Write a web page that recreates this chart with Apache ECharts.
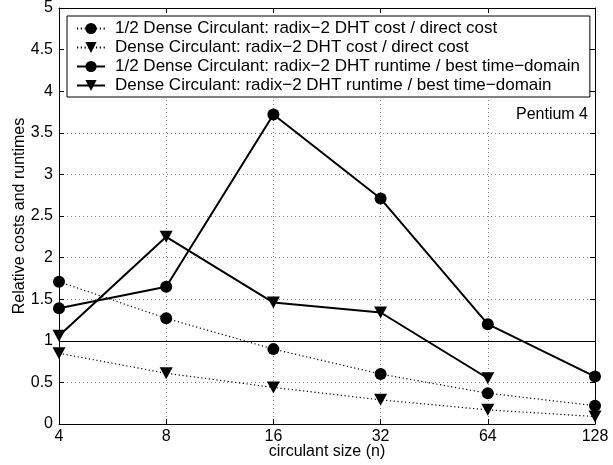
<!DOCTYPE html>
<html>
<head>
<meta charset="utf-8">
<script src="https://cdn.jsdelivr.net/npm/echarts@6/dist/echarts.min.js"></script>
<style>
html,body{margin:0;padding:0;background:#fff;}
#c{width:613px;height:465px;}
</style>
</head>
<body>
<div id="c"></div>
<script>
var categories = ['4', '8', '16', '32', '64', '128'];
var halfDenseCost = [1.71, 1.27, 0.90, 0.60, 0.37, 0.22];
var denseCost = [0.85, 0.61, 0.44, 0.29, 0.17, 0.09];
var halfDenseRuntime = [1.39, 1.65, 3.72, 2.71, 1.20, 0.57];
var denseRuntime = [1.06, 2.25, 1.46, 1.34, 0.55, null];
var seriesNames = [
  '1/2 Dense Circulant: radix\u22122 DHT cost / direct cost',
  'Dense Circulant: radix\u22122 DHT cost / direct cost',
  '1/2 Dense Circulant: radix\u22122 DHT runtime / best time\u2212domain',
  'Dense Circulant: radix\u22122 DHT runtime / best time\u2212domain'
];
var referenceLevel = 1;
var yTicks = {min: 0, max: 5, interval: 0.5};

var FONT = '"Liberation Sans", Arial, Helvetica, sans-serif';
var FS = 16;
var chart = echarts.init(document.getElementById('c'), null, {renderer: 'canvas'});

function mk(name, data, dotted, sym) {
  return {
    name: name,
    type: 'line',
    data: data,
    xAxisIndex: 0,
    yAxisIndex: 0,
    symbol: sym === 'tri' ? 'triangle' : 'circle',
    symbolRotate: sym === 'tri' ? 180 : 0,
    symbolSize: sym === 'tri' ? [13, 12] : 12,
    showAllSymbols: true,
    connectNulls: false,
    animation: false,
    itemStyle: {color: '#000', borderColor: '#000', borderWidth: 0, opacity: 1},
    lineStyle: {color: '#000', width: dotted ? 1.2 : 2, type: dotted ? [1.2, 2.6] : 'solid'},
    emphasis: {disabled: true},
    z: 5
  };
}

var series = [
  mk(seriesNames[0], halfDenseCost, true, 'circ'),
  mk(seriesNames[1], denseCost, true, 'tri'),
  mk(seriesNames[2], halfDenseRuntime, false, 'circ'),
  mk(seriesNames[3], denseRuntime, false, 'tri')
];
series[0].markLine = {
  silent: true,
  symbol: ['none', 'none'],
  label: {show: false},
  animation: false,
  lineStyle: {color: '#000', width: 1, type: 'solid'},
  data: [{yAxis: referenceLevel}]
};

var axisCommonX = {
  type: 'category',
  data: categories,
  boundaryGap: false,
  axisLine: {show: true, onZero: false, lineStyle: {color: '#000', width: 1}},
  axisTick: {show: true, inside: true, length: 5, alignWithLabel: true, lineStyle: {color: '#000'}}
};
var axisCommonY = {
  type: 'value',
  min: yTicks.min, max: yTicks.max, interval: yTicks.interval,
  axisLine: {show: true, lineStyle: {color: '#000', width: 1}},
  axisTick: {show: true, inside: true, length: 5, lineStyle: {color: '#000'}}
};

var option = {
  backgroundColor: '#fff',
  animation: false,
  textStyle: {fontFamily: FONT},
  title: {
    text: 'Pentium 4',
    right: 25, top: 107,
    padding: 0,
    textStyle: {fontFamily: FONT, fontSize: FS, fontWeight: 'normal', color: '#000'}
  },
  grid: {left: 59, right: 18, top: 8, bottom: 35, containLabel: false},
  legend: {
    show: true,
    orient: 'vertical',
    left: 67, top: 16,
    backgroundColor: '#fff',
    borderColor: '#000',
    borderWidth: 1,
    borderRadius: 0,
    padding: [4, 10, 3, 9],
    itemWidth: 28,
    itemHeight: 14,
    itemGap: 2,
    selectedMode: false,
    textStyle: {fontFamily: FONT, fontSize: 17, color: '#000', padding: [0, 0, 0, 5]},
    data: seriesNames,
    z: 10
  },
  xAxis: [
    Object.assign({}, axisCommonX, {
      position: 'bottom',
      name: 'circulant size (n)',
      nameLocation: 'middle',
      nameGap: 20,
      nameMoveOverlap: false,
      nameTextStyle: {fontFamily: FONT, fontSize: FS, color: '#000'},
      axisLabel: {show: true, color: '#000', fontFamily: FONT, fontSize: FS, margin: 5},
      splitLine: {show: true, lineStyle: {color: '#888', width: 1, type: [1, 3]}}
    }),
    Object.assign({}, axisCommonX, {
      position: 'top',
      axisLabel: {show: false},
      splitLine: {show: false}
    })
  ],
  yAxis: [
    Object.assign({}, axisCommonY, {
      position: 'left',
      name: 'Relative costs and runtimes',
      nameLocation: 'middle',
      nameGap: 31,
      nameMoveOverlap: false,
      nameTextStyle: {fontFamily: FONT, fontSize: FS, color: '#000'},
      axisLabel: {show: true, color: '#000', fontFamily: FONT, fontSize: FS, margin: 6},
      splitLine: {show: true, lineStyle: {color: '#888', width: 1, type: [1, 3]}}
    }),
    Object.assign({}, axisCommonY, {
      position: 'right',
      axisLabel: {show: false},
      splitLine: {show: false}
    })
  ],
  series: series
};
chart.setOption(option);
</script>
</body>
</html>
